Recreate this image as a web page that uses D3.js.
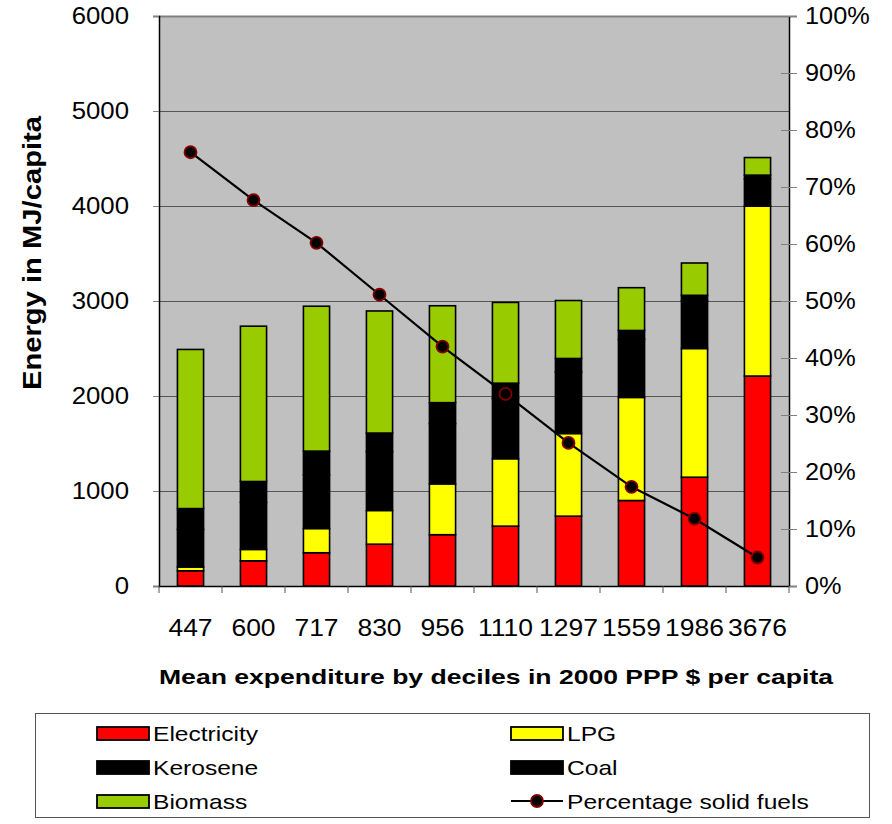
<!DOCTYPE html>
<html>
<head>
<meta charset="utf-8">
<script src="https://cdn.jsdelivr.net/npm/d3@7"></script>
<style>
  html, body { margin: 0; padding: 0; background: #ffffff; }
  svg { display: block; font-family: "Liberation Sans", Arial, sans-serif; }
</style>
</head>
<body>
<svg id="chart" width="892" height="824"></svg>
<script>
// Mean expenditure deciles (2000 PPP $ per capita)
const categories = ["447", "600", "717", "830", "956", "1110", "1297", "1559", "1986", "3676"];

// Energy use by fuel, MJ per capita
const electricity = [160, 265, 350, 440, 540, 630, 735, 900, 1145, 2210];
const lpg         = [ 40, 120, 255, 355, 535, 710, 870, 1085, 1355, 1790];
const kerosene    = [395, 495, 565, 620, 635, 635, 645, 610, 500, 285];
const coal        = [220, 220, 250, 195, 220, 160, 145, 95, 60, 40];
const biomass     = [1675, 1635, 1525, 1285, 1020, 850, 610, 450, 340, 185];

// Share of solid fuels in household energy, percent
const solidShare = [76.1, 67.7, 60.2, 51.1, 42.0, 33.7, 25.1, 17.4, 11.8, 5.0];

const leftTicks  = [0, 1000, 2000, 3000, 4000, 5000, 6000];
const rightTicks = [0, 10, 20, 30, 40, 50, 60, 70, 80, 90, 100];

const seriesNames  = ["Electricity", "LPG", "Kerosene", "Coal", "Biomass"];
const seriesColors = ["#ff0000", "#ffff00", "#000000", "#000000", "#99cc00"];

const svg = d3.select("#chart");
const plot = { left: 159, right: 789, top: 16, bottom: 586 };

// Widen glyphs a little (wide Arial-like lettering)
function widen(sel, factor) {
  sel.each(function () {
    const w = this.getComputedTextLength();
    d3.select(this).attr("textLength", w * factor).attr("lengthAdjust", "spacingAndGlyphs");
  });
}

const x = d3.scaleBand().domain(categories).range([plot.left, plot.right]).paddingInner(0.585).paddingOuter(0.2925);
const xStep = d3.scaleBand().domain(categories).range([plot.left, plot.right]);
const y = d3.scaleLinear().domain([0, 6000]).range([plot.bottom, plot.top]);
const yR = d3.scaleLinear().domain([0, 100]).range([plot.bottom, plot.top]);

// Plot background
svg.append("rect")
  .attr("x", plot.left).attr("y", plot.top)
  .attr("width", plot.right - plot.left).attr("height", plot.bottom - plot.top)
  .attr("fill", "#c0c0c0");

// Horizontal gridlines
svg.append("g").selectAll("line").data(leftTicks.filter(d => d > 0)).join("line")
  .attr("x1", plot.left).attr("x2", plot.right)
  .attr("y1", d => Math.round(y(d)) + 0.5).attr("y2", d => Math.round(y(d)) + 0.5)
  .attr("stroke", d => d === 6000 ? "#808080" : "#555555")
  .attr("stroke-width", d => d === 6000 ? 2 : 1);

// Stacked bars
const table = categories.map((c, i) => ({
  cat: c,
  Electricity: electricity[i], LPG: lpg[i], Kerosene: kerosene[i], Coal: coal[i], Biomass: biomass[i]
}));
const stacked = d3.stack().keys(seriesNames)(table);

const barG = svg.append("g");
stacked.forEach((layer, li) => {
  barG.append("g").selectAll("rect").data(layer).join("rect")
    .attr("x", d => x(d.data.cat))
    .attr("width", x.bandwidth())
    .attr("y", d => y(d[1]))
    .attr("height", d => y(d[0]) - y(d[1]))
    .attr("fill", seriesColors[li])
    .attr("stroke", "#000000")
    .attr("stroke-width", 1.6);
});

// Left axis
const leftAxis = d3.axisLeft(y).tickValues(leftTicks).tickSize(6).tickPadding(24).tickFormat(d3.format("d"));
const gL = svg.append("g").attr("transform", `translate(${plot.left},0)`).call(leftAxis);
gL.select(".domain").attr("stroke", "#000").attr("stroke-width", 1.5);
gL.selectAll(".tick line").attr("stroke", "#808080");
gL.selectAll("text").attr("font-size", 23).attr("fill", "#000")
  .attr("font-family", "'Liberation Sans', Arial, sans-serif");
widen(gL.selectAll("text"), 1.12);

// Right axis
const rightAxis = d3.axisRight(yR).tickValues(rightTicks).tickSize(8).tickPadding(8).tickFormat(d => d + "%");
const gR = svg.append("g").attr("transform", `translate(${plot.right},0)`).call(rightAxis);
gR.select(".domain").attr("stroke", "#000").attr("stroke-width", 1.5);
gR.selectAll(".tick line").attr("stroke", "#808080").attr("x1", -8);
gR.selectAll("text").attr("font-size", 23).attr("fill", "#000")
  .attr("font-family", "'Liberation Sans', Arial, sans-serif");
widen(gR.selectAll("text"), 1.1);

// Bottom axis: ticks between categories
const gB = svg.append("g").attr("transform", `translate(0,${plot.bottom})`);
gB.append("line").attr("x1", plot.left).attr("x2", plot.right).attr("y1", 0.5).attr("y2", 0.5)
  .attr("stroke", "#000").attr("stroke-width", 1.5);
gB.selectAll("line.sep").data(categories.concat(["end"])).join("line").attr("class", "sep")
  .attr("x1", (d, i) => plot.left + i * xStep.step()).attr("x2", (d, i) => plot.left + i * xStep.step())
  .attr("y1", 0).attr("y2", 7).attr("stroke", "#555");
const catLabels = gB.selectAll("text").data(categories).join("text")
  .attr("x", d => xStep(d) + xStep.bandwidth() / 2)
  .attr("y", 50)
  .attr("text-anchor", "middle")
  .attr("font-size", 23)
  .text(d => d);
widen(catLabels, 1.15);

// Solid fuel share line with markers
const lineData = categories.map((c, i) => ({ cat: c, v: solidShare[i] }));
const line = d3.line().x(d => xStep(d.cat) + xStep.bandwidth() / 2).y(d => yR(d.v));
svg.append("path").datum(lineData).attr("d", line)
  .attr("fill", "none").attr("stroke", "#000").attr("stroke-width", 2.2);
svg.append("g").selectAll("circle").data(lineData).join("circle")
  .attr("cx", d => xStep(d.cat) + xStep.bandwidth() / 2)
  .attr("cy", d => yR(d.v))
  .attr("r", 6)
  .attr("fill", "#000")
  .attr("stroke", "#800000")
  .attr("stroke-width", 1.8);

// Axis titles
svg.append("text")
  .attr("transform", "translate(41,253) rotate(-90)")
  .attr("text-anchor", "middle")
  .attr("font-size", 26).attr("font-weight", "bold")
  .attr("textLength", 274).attr("lengthAdjust", "spacingAndGlyphs")
  .text("Energy in MJ/capita");
svg.append("text")
  .attr("x", 496).attr("y", 684)
  .attr("text-anchor", "middle")
  .attr("font-size", 21).attr("font-weight", "bold")
  .attr("textLength", 674).attr("lengthAdjust", "spacingAndGlyphs")
  .text("Mean expenditure by deciles in 2000 PPP $ per capita");

// Legend
const lg = svg.append("g");
lg.append("rect").attr("x", 35.5).attr("y", 713.5).attr("width", 834).attr("height", 104)
  .attr("fill", "#fff").attr("stroke", "#555").attr("stroke-width", 1);

const legendItems = [
  { name: "Electricity", color: seriesColors[0], col: 0, row: 0 },
  { name: "LPG",         color: seriesColors[1], col: 1, row: 0 },
  { name: "Kerosene",    color: seriesColors[2], col: 0, row: 1 },
  { name: "Coal",        color: seriesColors[3], col: 1, row: 1 },
  { name: "Biomass",     color: seriesColors[4], col: 0, row: 2 }
];
const colX = [97, 511];
const rowY = [733, 767, 801];

legendItems.forEach(it => {
  const gx = colX[it.col], gy = rowY[it.row];
  lg.append("rect").attr("x", gx).attr("y", gy - 6).attr("width", 52).attr("height", 13)
    .attr("fill", it.color).attr("stroke", "#000").attr("stroke-width", 1.8);
  lg.append("text").attr("class", "lgtext").attr("x", gx + 56).attr("y", gy + 8).attr("font-size", 21).text(it.name);
});
// Line legend entry
lg.append("line").attr("x1", colX[1]).attr("x2", colX[1] + 52)
  .attr("y1", rowY[2]).attr("y2", rowY[2]).attr("stroke", "#000").attr("stroke-width", 2.2);
lg.append("circle").attr("cx", colX[1] + 26).attr("cy", rowY[2]).attr("r", 6)
  .attr("fill", "#000").attr("stroke", "#800000").attr("stroke-width", 1.8);
lg.append("text").attr("class", "lgtext").attr("x", colX[1] + 56).attr("y", rowY[2] + 8).attr("font-size", 21).text("Percentage solid fuels");
widen(lg.selectAll("text.lgtext"), 1.17);
</script>
</body>
</html>
